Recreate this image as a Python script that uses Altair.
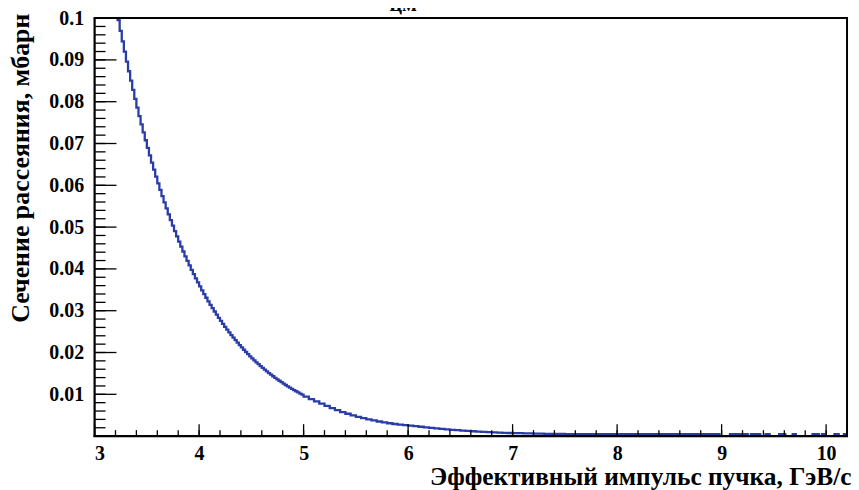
import altair as alt
import pandas as pd

# ---------------- data ----------------
# steep part: bins of 0.02 GeV/c starting at 3.20
steep_start = 3.20
steep_step = 0.02
steep_values = [
    0.10214, 0.09950, 0.09693, 0.09442, 0.09198, 0.08960, 0.08728, 0.08503, 0.08283, 0.08069,
    0.07860, 0.07657, 0.07459, 0.07266, 0.07078, 0.06895, 0.06717, 0.06543, 0.06374, 0.06209,
    0.06048, 0.05892, 0.05739, 0.05591, 0.05446, 0.05305, 0.05168, 0.05034, 0.04904, 0.04777,
    0.04654, 0.04533, 0.04416, 0.04302, 0.04191, 0.04082, 0.03977, 0.03874, 0.03774, 0.03676,
    0.03581, 0.03488, 0.03398, 0.03310, 0.03225, 0.03141, 0.03060, 0.02981, 0.02904, 0.02829,
    0.02756, 0.02684, 0.02615, 0.02547, 0.02481, 0.02417, 0.02355, 0.02294, 0.02235, 0.02177,
    0.02121, 0.02066, 0.02012, 0.01960, 0.01910, 0.01860, 0.01812, 0.01765, 0.01720, 0.01675,
    0.01632, 0.01590, 0.01549, 0.01509, 0.01470, 0.01432, 0.01395, 0.01359, 0.01324, 0.01289,
    0.01256, 0.01223, 0.01192, 0.01161, 0.01131, 0.01102, 0.01073, 0.01045, 0.01018, 0.00992,
]
# middle part: bins of 0.05 GeV/c starting at 5.00
mid_start = 5.00
mid_step = 0.05
mid_values = [
    0.00947, 0.00887, 0.00831, 0.00778, 0.00725, 0.00670, 0.00620, 0.00575, 0.00535, 0.00495,
    0.00460, 0.00428, 0.00400, 0.00375, 0.00350, 0.00328, 0.00308, 0.00290, 0.00275, 0.00262,
    0.00250, 0.00237, 0.00224, 0.00210, 0.00197, 0.00184, 0.00172, 0.00162, 0.00151, 0.00142,
    0.00133, 0.00124, 0.00116, 0.00109, 0.00102, 0.00096, 0.00090, 0.00084, 0.00079, 0.00074,
]
# flat part: bins of 0.1 GeV/c starting at 7.0
flat_start = 7.0
flat_step = 0.1
flat_values = [
    0.00069, 0.00064, 0.00059, 0.00055, 0.00052, 0.00050, 0.00050, 0.00050, 0.00050, 0.00050,
    0.00050, 0.00050, 0.00050, 0.00050, 0.00050, 0.00050, 0.00050, 0.00050, 0.00050,
]
# sparse tail: bin edges and contents
tail_edges = [8.90, 8.98, 9.08, 9.18, 9.20, 9.25, 9.28, 9.37, 9.42, 9.46, 9.55, 9.61,
              9.68, 9.71, 9.87, 9.93, 9.96, 9.98, 10.08, 10.12, 10.17, 10.19, 10.20]
tail_values = [0.0005, 0, 0.0005, 0, 0.0005, 0, 0.0005, 0, 0.0005, 0, 0.0005, 0,
               0.0005, 0, 0.0005, 0, 0.0005, 0, 0.0005, 0, 0.0005, 0, 0]

x_labels = [3, 4, 5, 6, 7, 8, 9, 10]
y_labels = [0.01, 0.02, 0.03, 0.04, 0.05, 0.06, 0.07, 0.08, 0.09, 0.1]
x_minor = [round(3.0 + 0.2 * i, 2) for i in range(37)]
y_minor = [round(0.002 * i, 3) for i in range(1, 51)]

x_title = "Эффективный импульс пучка, ГэВ/с"
y_title = "Сечение рассеяния, мбарн"

# ---------------- build the table ----------------
xs, ys = [], []
for i, v in enumerate(steep_values):
    xs.append(round(steep_start + steep_step * i, 3)); ys.append(v)
for i, v in enumerate(mid_values):
    xs.append(round(mid_start + mid_step * i, 3)); ys.append(v)
for i, v in enumerate(flat_values):
    xs.append(round(flat_start + flat_step * i, 3)); ys.append(v)
for e, v in zip(tail_edges, tail_values):
    xs.append(e); ys.append(v)
hist = pd.DataFrame({"p": xs, "s": ys})

W, H = 756, 420
FONT = "Liberation Serif"
BLUE = "#2a3ca8"

xsc = alt.Scale(domain=[3, 10.2], nice=False, zero=False)
ysc = alt.Scale(domain=[0, 0.1], nice=False, zero=True)

xaxis = alt.Axis(values=x_labels, ticks=False, domain=False, grid=False,
                 labelFont=FONT, labelFontSize=20, labelFontWeight="bold", labelColor="black",
                 labelPadding=8, labelExpr="format(datum.value, 'd')",
                 title=x_title, titleFont=FONT, titleFontSize=25.5, titleFontWeight="bold",
                 titleColor="black", titleAnchor="end", titleAlign="right",
                 titleX=W + 4, titleY=49, titleBaseline="alphabetic")
yaxis = alt.Axis(values=y_labels, ticks=False, domain=False, grid=False,
                 labelFont=FONT, labelFontSize=20, labelFontWeight="bold", labelColor="black",
                 labelPadding=11, labelExpr="format(datum.value, '~g')",
                 title=y_title, titleFont=FONT, titleFontSize=26, titleFontWeight="bold",
                 titleColor="black", titleAnchor="end", titleAlign="right", titleAngle=270,
                 titleX=-66, titleY=-5, titleBaseline="alphabetic")

line = alt.Chart(hist).mark_line(interpolate="step-after", clip=True, color=BLUE,
                                 strokeWidth=2.3).encode(
    x=alt.X("p:Q", scale=xsc, axis=xaxis),
    y=alt.Y("s:Q", scale=ysc, axis=yaxis),
)

ymaj = alt.Chart(pd.DataFrame({"v": y_labels})).mark_rule(color="black", strokeWidth=1.3).encode(
    y=alt.Y("v:Q", scale=ysc), x=alt.value(0), x2=alt.value(22))
ymin = alt.Chart(pd.DataFrame({"v": y_minor})).mark_rule(color="black", strokeWidth=1.3).encode(
    y=alt.Y("v:Q", scale=ysc), x=alt.value(0), x2=alt.value(11))
xmaj = alt.Chart(pd.DataFrame({"v": x_labels})).mark_rule(color="black", strokeWidth=1.3).encode(
    x=alt.X("v:Q", scale=xsc), y=alt.value(H), y2=alt.value(H - 12))
xmin = alt.Chart(pd.DataFrame({"v": x_minor})).mark_rule(color="black", strokeWidth=1.3).encode(
    x=alt.X("v:Q", scale=xsc), y=alt.value(H), y2=alt.value(H - 6))

frame_df = pd.DataFrame({"k": [0]})
left = alt.Chart(frame_df).mark_rule(color="black", strokeWidth=2.2).encode(
    x=alt.value(0), y=alt.value(0), y2=alt.value(H + 1))
bottom = alt.Chart(frame_df).mark_rule(color="black", strokeWidth=2.2).encode(
    x=alt.value(-1), x2=alt.value(W + 1), y=alt.value(H))
top = alt.Chart(frame_df).mark_rule(color="black", strokeWidth=2.0).encode(
    x=alt.value(-1), x2=alt.value(W + 1), y=alt.value(0))
right = alt.Chart(frame_df).mark_rule(color="black", strokeWidth=2.0).encode(
    x=alt.value(W), y=alt.value(0), y2=alt.value(H + 1))

# title of the histogram, mostly above the visible page
t1 = alt.Chart(pd.DataFrame({"t": ["θ"]})).mark_text(
    font=FONT, fontWeight="bold", fontSize=28, color="black", baseline="alphabetic", align="center"
).encode(text="t:N", x=alt.value(291), y=alt.value(-13))
t2 = alt.Chart(pd.DataFrame({"t": ["цм"]})).mark_text(
    font=FONT, fontWeight="bold", fontSize=22, color="black", baseline="alphabetic", align="center"
).encode(text="t:N", x=alt.value(310), y=alt.value(-7))
t3 = alt.Chart(pd.DataFrame({"t": ["= 90°"]})).mark_text(
    font=FONT, fontWeight="bold", fontSize=28, color="black", baseline="alphabetic", align="left"
).encode(text="t:N", x=alt.value(345), y=alt.value(-14))

chart = alt.layer(line, ymaj, ymin, xmaj, xmin, left, bottom, top, right, t1, t2, t3).properties(
    width=W, height=H,
    autosize=alt.AutoSizeParams(type="none"),
    padding={"left": 87, "top": 9, "right": 4, "bottom": 53},
).configure_view(stroke=None).configure(background="white")

chart.save("out.html", embed_options={"renderer": "svg", "actions": False})
